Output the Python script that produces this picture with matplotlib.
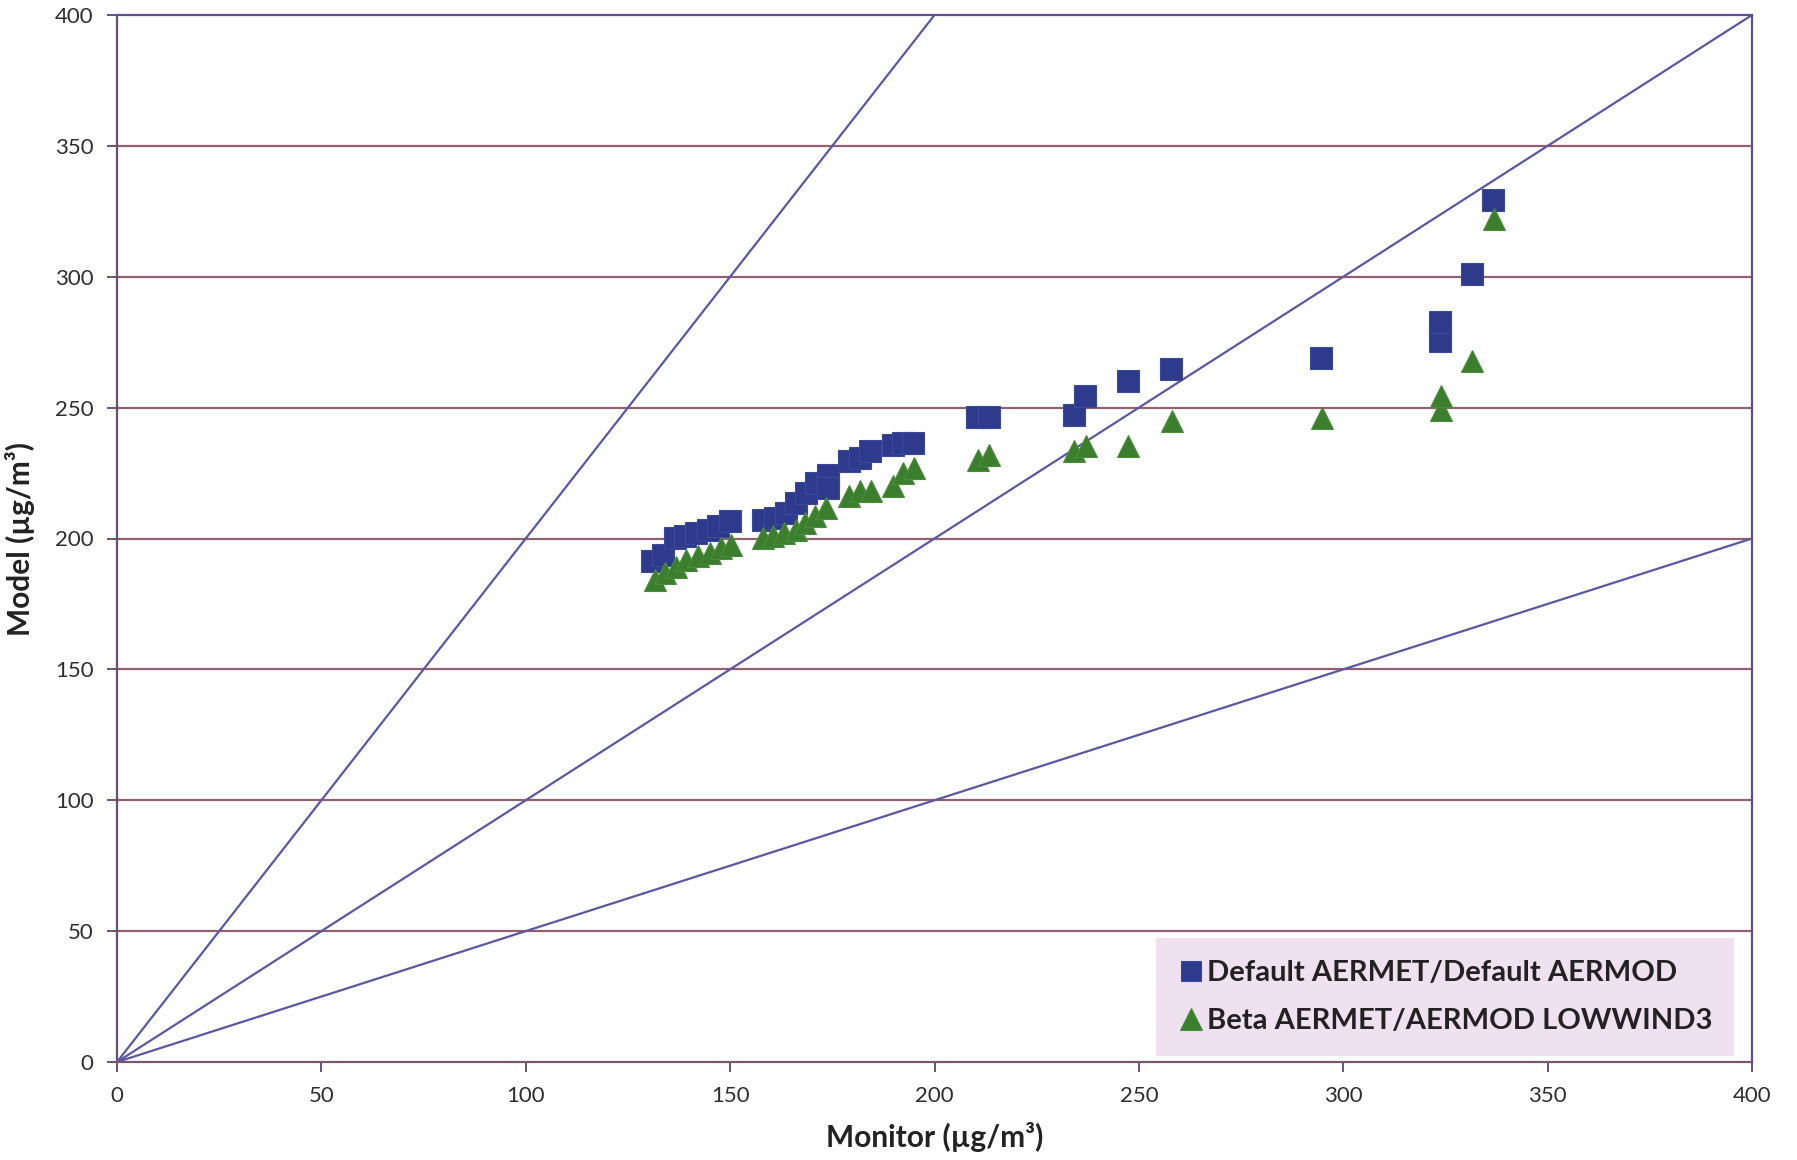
import matplotlib.pyplot as plt

# Monitor vs model concentrations (µg/m³)
default_monitor = [131.0, 133.6, 136.4, 138.9, 141.7, 144.6, 147.0, 149.9,
                   158.0, 160.9, 163.7, 166.2, 168.6, 171.1, 173.9, 173.9,
                   179.2, 181.7, 184.1, 189.8, 192.2, 194.7, 210.5, 213.4,
                   234.2, 236.7, 247.4, 257.9, 294.5, 323.6, 323.6, 331.5, 336.7]
default_model = [191.3, 193.8, 200.2, 200.8, 202.1, 203.4, 204.6, 206.5,
                 207.2, 207.8, 209.7, 213.6, 217.4, 221.2, 224.4, 219.4,
                 229.5, 230.8, 233.3, 235.9, 236.5, 236.5, 246.6, 246.6,
                 247.3, 254.3, 260.1, 264.8, 269.0, 275.5, 282.9, 301.1, 329.5]

beta_monitor = [131.5, 134.0, 136.8, 139.3, 142.1, 145.0, 147.8, 150.3,
                158.0, 160.5, 163.3, 166.2, 168.2, 170.7, 173.5, 179.2,
                181.7, 184.5, 189.8, 192.2, 195.1, 210.6, 213.3, 234.2,
                237.1, 247.4, 258.0, 294.7, 323.8, 323.8, 331.6, 336.8]
beta_model = [184.3, 186.8, 189.3, 191.9, 193.2, 194.5, 196.4, 197.6,
              200.2, 200.8, 202.1, 203.4, 205.9, 208.5, 211.7, 216.1,
              218.0, 218.0, 219.9, 225.0, 226.9, 230.1, 232.0, 233.3,
              235.2, 235.2, 244.8, 246.0, 249.2, 254.3, 267.7, 321.9]

ratios = [2.0, 1.0, 0.5]  # factor-of-two lines
ticks = [0, 50, 100, 150, 200, 250, 300, 350, 400]

plt.rcParams['font.family'] = ['Lato', 'DejaVu Sans']

fig = plt.figure(figsize=(17.97, 11.60), dpi=100)
ax = fig.add_axes([117 / 1797, 1 - 1062 / 1160, (1752 - 117) / 1797, (1062 - 15) / 1160])

for y in ticks[1:-1]:
    ax.axhline(y, color='#93606f', lw=1.6, zorder=1)

for r in ratios:
    ax.plot([0, 400], [0, 400 * r], color='#5a57a3', lw=1.6, zorder=2)

ax.plot(default_monitor, default_model, 's', ms=15.5, color='#2e3b8c',
        mec='#3a4a9a', mew=0.8, label='Default AERMET/Default AERMOD', zorder=3)
ax.plot(beta_monitor, beta_model, '^', ms=16, color='#3b7f2e',
        mec='#4a8c3a', mew=0.8, label='Beta AERMET/AERMOD LOWWIND3', zorder=4)

ax.set_xlim(0, 400)
ax.set_ylim(0, 400)
ax.set_xticks(ticks)
ax.set_yticks(ticks)
ax.tick_params(direction='out', length=7, width=1.4, color='#6a5080',
               labelsize=16, labelcolor='#2e2e2e', pad=10)
for s in ax.spines.values():
    s.set_color('#5e5090')
    s.set_linewidth(1.6)
ax.spines['left'].set_color('#6a4e78')
ax.spines['bottom'].set_color('#7a5570')

ax.set_xlabel('Monitor (µg/m³)', fontsize=21.5, fontweight='bold', color='#222222', labelpad=12)
ax.set_ylabel('Model (µg/m³)', fontsize=21.5, fontweight='bold', color='#222222', labelpad=14)

leg = ax.legend(loc='lower right', bbox_to_anchor=(0.989, 0.006), borderaxespad=0,
                fontsize=21, frameon=True, fancybox=False, facecolor='#efe1f0',
                edgecolor='none', framealpha=1, handletextpad=0.1, handlelength=0.9,
                borderpad=0.75, labelspacing=0.75, markerscale=0.95)
for t in leg.get_texts():
    t.set_fontweight('bold')
    t.set_color('#222222')

fig.savefig('out.png', dpi=100, facecolor='white')
